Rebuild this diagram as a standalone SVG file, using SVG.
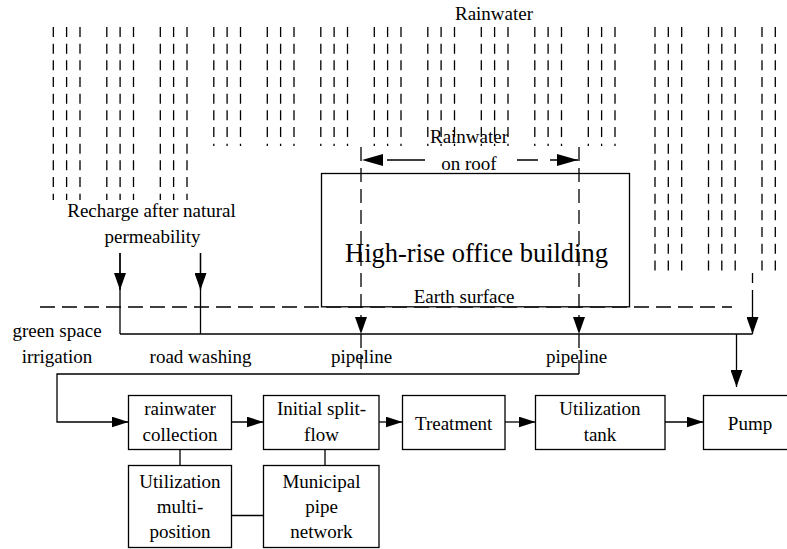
<svg xmlns="http://www.w3.org/2000/svg" width="787" height="549" viewBox="0 0 787 549">
<style>
text{font-family:"Liberation Serif","Times New Roman",serif;font-size:19px;fill:#000;text-anchor:middle}
.big{font-size:26.5px}
.box{fill:#fff;stroke:#000;stroke-width:1.3}
.ln{fill:none;stroke:#000;stroke-width:1.3}
.rain line{stroke:#000;stroke-width:1.3;stroke-dasharray:10 6.67}
.dash{fill:none;stroke:#000;stroke-width:1.3;stroke-dasharray:14 7}
</style>
<defs>
<marker id="ah" viewBox="0 0 17 12" refX="17" refY="6" markerWidth="17" markerHeight="12" markerUnits="userSpaceOnUse" orient="auto">
<path d="M0,0 L17,6 L0,12 Z" fill="#000"/>
</marker>
<marker id="ahs" viewBox="0 0 17 11" refX="17" refY="5.5" markerWidth="17" markerHeight="11" markerUnits="userSpaceOnUse" orient="auto">
<path d="M0,0 L17,5.5 L0,11 Z" fill="#000"/>
</marker>
<marker id="ahr" viewBox="0 0 21 12" refX="21" refY="6" markerWidth="21" markerHeight="12" markerUnits="userSpaceOnUse" orient="auto">
<path d="M0,0 L21,6 L0,12 Z" fill="#000"/>
</marker>
</defs>
<rect width="787" height="549" fill="#fff"/>
<g class="rain" id="rain">
<line x1="53.3" y1="27" x2="53.3" y2="200"/><line x1="66.6" y1="27" x2="66.6" y2="200"/><line x1="80" y1="27" x2="80" y2="200"/>
<line x1="106.8" y1="27" x2="106.8" y2="200"/><line x1="120.1" y1="27" x2="120.1" y2="200"/><line x1="133.5" y1="27" x2="133.5" y2="200"/>
<line x1="160.3" y1="27" x2="160.3" y2="200"/><line x1="173.6" y1="27" x2="173.6" y2="200"/><line x1="187" y1="27" x2="187" y2="200"/>
<line x1="213.8" y1="27" x2="213.8" y2="146"/><line x1="227.1" y1="27" x2="227.1" y2="146"/><line x1="240.5" y1="27" x2="240.5" y2="146"/>
<line x1="267.3" y1="27" x2="267.3" y2="146"/><line x1="280.6" y1="27" x2="280.6" y2="146"/><line x1="294" y1="27" x2="294" y2="146"/>
<line x1="320.8" y1="27" x2="320.8" y2="146"/><line x1="334.1" y1="27" x2="334.1" y2="146"/><line x1="347.5" y1="27" x2="347.5" y2="146"/>
<line x1="374.3" y1="27" x2="374.3" y2="146"/><line x1="387.6" y1="27" x2="387.6" y2="146"/><line x1="401" y1="27" x2="401" y2="146"/>
<line x1="427.8" y1="27" x2="427.8" y2="146"/><line x1="441.1" y1="27" x2="441.1" y2="146"/><line x1="454.5" y1="27" x2="454.5" y2="146"/>
<line x1="481.3" y1="27" x2="481.3" y2="146"/><line x1="494.6" y1="27" x2="494.6" y2="146"/><line x1="508" y1="27" x2="508" y2="146"/>
<line x1="534.8" y1="27" x2="534.8" y2="146"/><line x1="548.1" y1="27" x2="548.1" y2="146"/><line x1="561.5" y1="27" x2="561.5" y2="146"/>
<line x1="588.3" y1="27" x2="588.3" y2="146"/><line x1="601.6" y1="27" x2="601.6" y2="146"/><line x1="615" y1="27" x2="615" y2="146"/>
<line x1="655" y1="27" x2="655" y2="272"/><line x1="668.3" y1="27" x2="668.3" y2="272"/><line x1="681.7" y1="27" x2="681.7" y2="272"/>
<line x1="708.5" y1="27" x2="708.5" y2="272"/><line x1="721.8" y1="27" x2="721.8" y2="272"/><line x1="735.2" y1="27" x2="735.2" y2="272"/>
<line x1="762" y1="27" x2="762" y2="272"/><line x1="775.3" y1="27" x2="775.3" y2="272"/>
</g>
<text x="494" y="20">Rainwater</text>
<g id="ground">
<line class="ln" x1="40" y1="307" x2="732" y2="307" style="stroke-dasharray:15 7"/>
</g>
<g id="building">
<rect class="box" x="321.5" y="173.5" width="308" height="133.3"/>
<text class="big" x="476.5" y="261.5">High-rise office building</text>
<text x="464" y="303">Earth surface</text>
</g>
<g id="connectors">
<line class="ln" x1="425" y1="160" x2="362" y2="160" style="stroke-dasharray:38 13 7 100" marker-end="url(#ahr)"/>
<line class="ln" x1="517" y1="160" x2="578" y2="160" style="stroke-dasharray:21 12 28 100" marker-end="url(#ahr)"/>
<line class="dash" x1="361" y1="147" x2="361" y2="334" marker-end="url(#ah)"/>
<line class="dash" x1="361" y1="334" x2="361" y2="374"/>
<line class="dash" x1="579" y1="147" x2="579" y2="334" marker-end="url(#ah)"/>
<line class="dash" x1="579" y1="334" x2="579" y2="374" style="stroke-dasharray:14 12 100"/>
<line class="ln" x1="120" y1="253" x2="120" y2="334"/>
<line class="ln" x1="120" y1="253" x2="120" y2="290" marker-end="url(#ah)"/>
<line class="ln" x1="200.5" y1="253" x2="200.5" y2="334"/>
<line class="ln" x1="200.5" y1="253" x2="200.5" y2="290" marker-end="url(#ah)"/>
<line class="ln" x1="120" y1="334" x2="752.5" y2="334"/>
<line class="ln" x1="752.5" y1="273" x2="752.5" y2="334" style="stroke-dasharray:10 7 100" marker-end="url(#ah)"/>
<line class="ln" x1="736.5" y1="334" x2="736.5" y2="387" marker-end="url(#ah)"/>
<path class="ln" d="M579,374 H57 V422 H128.5" marker-end="url(#ahs)"/>
<line class="ln" x1="231.5" y1="422" x2="263.5" y2="422" marker-end="url(#ahs)"/>
<line class="ln" x1="379" y1="422" x2="402.5" y2="422" marker-end="url(#ahs)"/>
<line class="ln" x1="505" y1="422" x2="535.5" y2="422" marker-end="url(#ahs)"/>
<line class="ln" x1="665" y1="422" x2="703.5" y2="422" marker-end="url(#ahs)"/>
<line class="ln" x1="180" y1="449.5" x2="180" y2="465.5"/>
<line class="ln" x1="325" y1="449.5" x2="325" y2="465.5"/>
<line class="ln" x1="231.5" y1="515.5" x2="263.5" y2="515.5"/>
</g>
<g id="labels">
<text x="469" y="143">Rainwater</text>
<text x="469" y="170">on roof</text>
<text x="151.5" y="216.5">Recharge after natural</text>
<text x="152.5" y="243">permeability</text>
<text x="57" y="337">green space</text>
<text x="57" y="363">irrigation</text>
<text x="200.5" y="363">road washing</text>
<text x="361.5" y="363">pipeline</text>
<text x="576.5" y="363">pipeline</text>
</g>
<g id="rc"><rect class="box" x="128.5" y="395.5" width="103" height="54"/><text x="180" y="415">rainwater</text><text x="180" y="441">collection</text></g>
<g id="isf"><rect class="box" x="263.5" y="395.5" width="115.5" height="54"/><text x="321.5" y="415">Initial split-</text><text x="321.5" y="441">flow</text></g>
<g id="treat"><rect class="box" x="402.5" y="395.5" width="102.5" height="54"/><text x="453.7" y="430">Treatment</text></g>
<g id="ut"><rect class="box" x="535.5" y="395.5" width="129.5" height="54"/><text x="600" y="415">Utilization</text><text x="600" y="441">tank</text></g>
<g id="pump"><rect class="box" x="703.5" y="395.5" width="95" height="54"/><text x="750" y="430">Pump</text></g>
<g id="umt"><rect class="box" x="128.5" y="465.5" width="103" height="82"/><text x="180" y="488">Utilization</text><text x="180" y="513">multi-</text><text x="180" y="538">position</text></g>
<g id="mpn"><rect class="box" x="263.5" y="465.5" width="115.5" height="82"/><text x="321.5" y="488">Municipal</text><text x="321.5" y="513">pipe</text><text x="321.5" y="538">network</text></g>
</svg>
